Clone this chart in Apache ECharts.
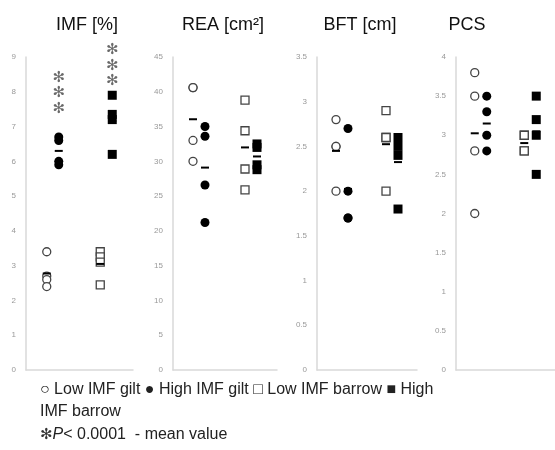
<!DOCTYPE html>
<html>
<head>
<meta charset="utf-8">
<script src="https://cdn.jsdelivr.net/npm/echarts@6/dist/echarts.min.js"></script>
<style>
html,body{margin:0;padding:0;background:#fff;}
#main{width:555px;height:450px;}
</style>
</head>
<body>
<div id="main"></div>
<script>
var groups = ['gilt', 'barrow'];

// IMF [%]
var imfLowGilt = [3.4, 2.7, 2.6, 2.4];
var imfHighGilt = [6.7, 6.6, 6.0, 5.9];
var imfLowBarrow = [3.4, 3.25, 3.1, 2.45];
var imfHighBarrow = [7.9, 7.35, 7.2, 6.2];
var imfStarGilt = [8.4, 7.95, 7.5];
var imfStarBarrow = [9.2, 8.75, 8.3];
// REA [cm2]
var reaLowGilt = [40.6, 40.6, 33.0, 30.0];
var reaHighGilt = [35.0, 33.6, 26.6, 21.2];
var reaLowBarrow = [38.8, 34.4, 28.9, 25.9];
var reaHighBarrow = [32.5, 32.0, 29.5, 28.8];
// BFT [cm]
var bftLowGilt = [2.8, 2.5, 2.5, 2.0];
var bftHighGilt = [2.7, 2.0, 1.7, 1.7];
var bftLowBarrow = [2.9, 2.6, 2.6, 2.0];
var bftHighBarrow = [2.6, 2.5, 2.4, 1.8];
// PCS
var pcsLowGilt = [3.8, 3.5, 2.8, 2.0];
var pcsHighGilt = [3.5, 3.3, 3.0, 2.8];
var pcsLowBarrow = [3.0, 3.0, 2.8, 2.8];
var pcsHighBarrow = [3.5, 3.2, 3.0, 2.5];

var panelTitles = ['IMF [%]', 'REA [cm²]', 'BFT [cm]', 'PCS'];
var yMax = [9, 45, 3.5, 4];
var yStep = [1, 5, 0.5, 0.5];

var panels = [
    [imfLowGilt, imfHighGilt, imfLowBarrow, imfHighBarrow],
    [reaLowGilt, reaHighGilt, reaLowBarrow, reaHighBarrow],
    [bftLowGilt, bftHighGilt, bftLowBarrow, bftHighBarrow],
    [pcsLowGilt, pcsHighGilt, pcsLowBarrow, pcsHighBarrow]
];

var gridLeft = [26, 173, 317, 456];
var gridWidth = [107, 104, 100, 100];
var titleX = [87, 223, 360, 467];

function mean(a) {
    var s = 0;
    for (var i = 0; i < a.length; i++) s += a[i];
    return s / a.length;
}
function pts(cat, arr) {
    return arr.map(function (v) { return [cat, v]; });
}

var grids = [], xAxes = [], yAxes = [], series = [], graphics = [];
var off = 6;

for (var p = 0; p < 4; p++) {
    grids.push({left: gridLeft[p], width: gridWidth[p], top: 57, bottom: 80});
    xAxes.push({
        type: 'category', data: groups, gridIndex: p, boundaryGap: true,
        axisLine: {lineStyle: {color: '#d9d9d9', width: 1.5}},
        axisTick: {show: false}, axisLabel: {show: false}
    });
    yAxes.push({
        type: 'value', gridIndex: p, min: 0, max: yMax[p], interval: yStep[p],
        axisLine: {show: true, lineStyle: {color: '#d9d9d9', width: 1.5}},
        axisTick: {show: false}, splitLine: {show: false},
        axisLabel: {color: '#999', fontSize: 8, margin: 10, fontFamily: 'Liberation Sans'}
    });
    var d = panels[p];
    // open circles / filled circles / open squares / filled squares
    series.push({
        type: 'scatter', xAxisIndex: p, yAxisIndex: p, data: pts('gilt', d[0]),
        symbol: 'circle', symbolSize: 8, symbolOffset: [-off, 0],
        itemStyle: {color: '#fff', borderColor: '#444', borderWidth: 1.3, opacity: 1}
    });
    series.push({
        type: 'scatter', xAxisIndex: p, yAxisIndex: p, data: pts('gilt', d[1]),
        symbol: 'circle', symbolSize: 9, symbolOffset: [off, 0],
        itemStyle: {color: '#000', opacity: 1}
    });
    series.push({
        type: 'scatter', xAxisIndex: p, yAxisIndex: p, data: pts('barrow', d[2]),
        symbol: 'rect', symbolSize: 8, symbolOffset: [-off, 0],
        itemStyle: {color: '#fff', borderColor: '#444', borderWidth: 1.3, opacity: 1}
    });
    series.push({
        type: 'scatter', xAxisIndex: p, yAxisIndex: p, data: pts('barrow', d[3]),
        symbol: 'rect', symbolSize: 9, symbolOffset: [off, 0],
        itemStyle: {color: '#000', opacity: 1}
    });
    // mean dashes
    series.push({
        type: 'scatter', xAxisIndex: p, yAxisIndex: p, z: 5,
        data: [['gilt', mean(d[0])], ['barrow', mean(d[2])]],
        symbol: 'rect', symbolSize: [8, 2], symbolOffset: [-off, 0],
        itemStyle: {color: '#000', opacity: 1}
    });
    series.push({
        type: 'scatter', xAxisIndex: p, yAxisIndex: p, z: 5,
        data: [['gilt', mean(d[1])], ['barrow', mean(d[3])]],
        symbol: 'rect', symbolSize: [8, 2], symbolOffset: [off, 0],
        itemStyle: {color: '#000', opacity: 1}
    });
    graphics.push({
        type: 'text', x: titleX[p], y: 25,
        style: {text: panelTitles[p], fill: '#111', font: '18px "Liberation Sans"', textAlign: 'center', textVerticalAlign: 'middle'}
    });
}

// significance stars on IMF
series.push({
    type: 'scatter', xAxisIndex: 0, yAxisIndex: 0, clip: false,
    data: pts('gilt', imfStarGilt).concat(pts('barrow', imfStarBarrow)),
    symbolSize: 1, itemStyle: {color: 'rgba(0,0,0,0)'},
    label: {show: true, position: 'inside', formatter: '✻', color: '#444', fontSize: 15, fontWeight: 'bold', fontFamily: 'DejaVu Sans', offset: [off, 0]}
});

graphics.push({
    type: 'text', x: 40, y: 390,
    style: {text: '○ Low IMF gilt ● High IMF gilt □ Low IMF barrow ■ High', fill: '#222', font: '16px "Liberation Sans"', textVerticalAlign: 'middle'}
});
graphics.push({
    type: 'text', x: 40, y: 412,
    style: {text: 'IMF barrow', fill: '#222', font: '16px "Liberation Sans"', textVerticalAlign: 'middle'}
});
graphics.push({
    type: 'text', x: 40, y: 435,
    style: {
        text: '{a|✻}{b|P}{c|< 0.0001  - mean value}',
        textVerticalAlign: 'middle',
        rich: {
            a: {fontSize: 15, fill: '#333', fontWeight: 'bold', fontFamily: 'DejaVu Sans'},
            b: {fontSize: 16, fill: '#222', fontStyle: 'italic', fontFamily: 'Liberation Sans'},
            c: {fontSize: 16, fill: '#222', fontFamily: 'Liberation Sans'}
        }
    }
});

var myChart = echarts.init(document.getElementById('main'));
var option = {
    animation: false,
    grid: grids,
    xAxis: xAxes,
    yAxis: yAxes,
    series: series,
    graphic: graphics
};
myChart.setOption(option);
</script>
</body>
</html>
